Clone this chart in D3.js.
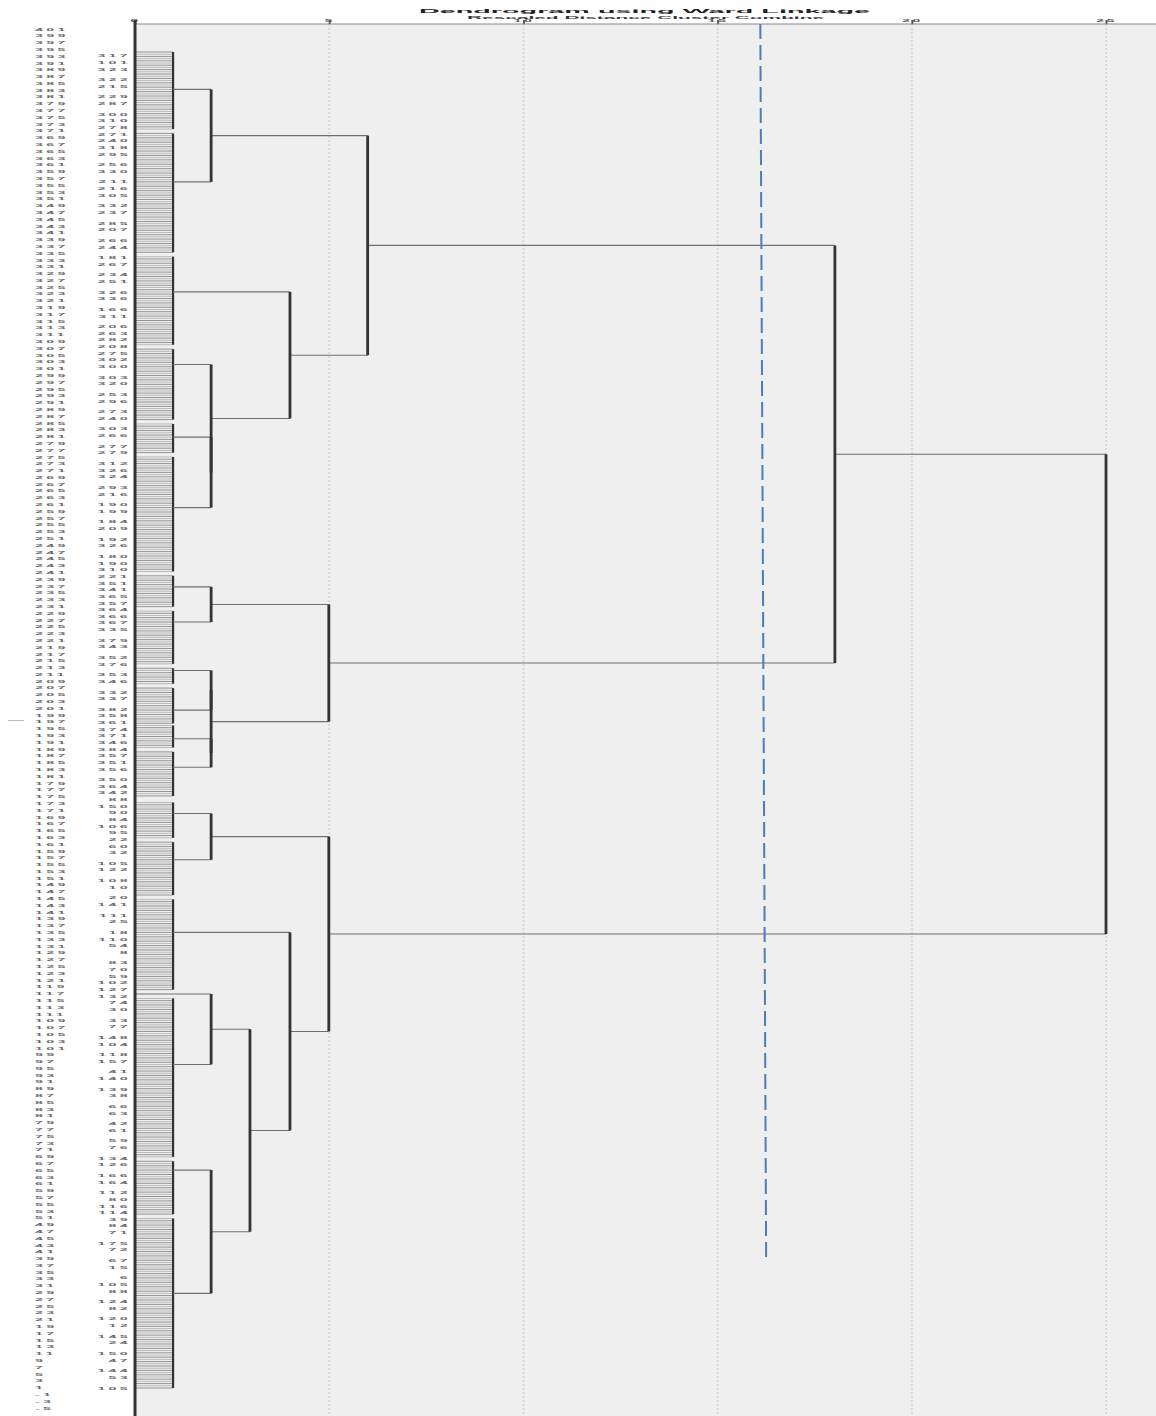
<!DOCTYPE html>
<html>
<head>
<meta charset="utf-8">
<script src="https://cdn.jsdelivr.net/npm/d3@7"></script>
<style>
  body { margin: 0; background: #fff; }
  svg { display: block; }
  text { font-family: "Liberation Sans", Arial, sans-serif; }
</style>
</head>
<body>
<svg id="chart"></svg>
<script>
// row numbers printed down the far left
const rowNumbers = [
  401,399,397,395,393,391,389,387,385,383,381,379,377,375,373,371,369,367,365,363,
  361,359,357,355,353,351,349,347,345,343,341,339,337,335,333,331,329,327,325,323,
  321,319,317,315,313,311,309,307,305,303,301,299,297,295,293,291,289,287,285,283,
  281,279,277,275,273,271,269,267,265,263,261,259,257,255,253,251,249,247,245,243,
  241,239,237,235,233,231,229,227,225,223,221,219,217,215,213,211,209,207,205,203,
  201,199,197,195,193,191,189,187,185,183,181,179,177,175,173,171,169,167,165,163,
  161,159,157,155,153,151,149,147,145,143,141,139,137,135,133,131,129,127,125,123,
  121,119,117,115,113,111,109,107,105,103,101,99,97,95,93,91,89,87,85,83,
  81,79,77,75,73,71,69,67,65,63,61,59,57,55,53,51,49,47,45,43,
  41,39,37,35,33,31,29,27,25,23,21,19,17,15,13,11,9,7,5,3,
  1,-1,-3,-5
];

// case ids, in runs (a small gap between runs)
const caseGroups = [
  ["317","101","323"], ["322","215"], ["229","287"], ["300","310","278","271","240","318","295"],
  ["256","330"], ["211","216","305"], ["332","237"], ["285","207"], ["266","244"], ["181","267"],
  ["234","251"], ["326","336"], ["166","311"], ["206","263","282","208","275","302","300"],
  ["303","320"], ["253","296"], ["273","240"], ["303","266"], ["277","279"], ["312","326","324"],
  ["293","216"], ["190","199"], ["184","209"], ["192","326"],
  ["180","190","310","221","351","341","365","357","364","366","367","335"],
  ["379","343"], ["352","376"], ["353","346"], ["332","337"],
  ["382","358","361","374","371","346","384","357","351","356"],
  ["350","364","342","88","150","90","84","106","95","22","60","32"],
  ["105","122"], ["108","10"], ["20","141"], ["111","25"], ["18","110","54","8"],
  ["83","70","59","102","127","132","74","30"], ["33","77"], ["148","104"], ["118","157"],
  ["41","140"], ["139","38"], ["66","63"], ["42","61"], ["59","76"], ["134","126"],
  ["166","164"], ["112","80","116","114","39","84","71"], ["175","72"], ["67","15"],
  ["6","105","88"], ["124","82"], ["120","12"], ["145","24"], ["150","47"], ["144","53"], ["105"]
];

const leafCount = 608;
const blockHeight = 0.98;
// first-level clusters: [first leaf, last leaf, leaf where it joins its parent]
const blocks = [
  [0,35,17], [37,91,59], [93,133,109], [135,167,142], [169,182,175], [184,236,207],
  [238,252,243], [254,278,259], [280,287,281], [289,305,299], [306,316,312], [318,338,325],
  [341,357,346], [359,383,367], [385,426,400], [430,502,460], [504,528,508], [530,607,564]
];
const singles = [428];
// merges: [child, child, rescaled distance]
const merges = [
  ["b0","b1",1.96], ["b4","b5",1.96], ["b3","m1",1.96], ["b2","m2",3.99], ["m0","m3",5.99],
  ["b6","b7",1.96], ["b8","b9",1.96], ["b10","b11",1.96], ["m6","m7",1.96], ["m5","m8",4.99],
  ["m4","m9",18.02], ["b12","b13",1.96], ["s0","b15",1.96], ["b16","b17",1.96],
  ["m12","m13",2.96], ["b14","m14",3.99], ["m11","m15",4.99], ["m10","m16",25]
];
const distTicks = [0, 5, 10, 15, 20, 25];
const cutLine = [16.1, 16.25];   // cut distance at top / at its lower end
const cutEndLeaf = 548;

const width = 1156, height = 1416;
const svg = d3.select('#chart').attr('width', width).attr('height', height);

const x = d3.scaleLinear().domain([0, 25]).range([135, 1106]);
const leafY = d3.scaleLinear().domain([0, leafCount - 1]).range([52, 1388]);
const rowY = d3.scaleLinear().domain([0, rowNumbers.length - 1]).range([29, 1408]);
const plotTop = 24;

// plot background
svg.append('rect')
  .attr('x', x(0)).attr('y', plotTop)
  .attr('width', width - x(0)).attr('height', height - plotTop)
  .attr('fill', '#efefef');

// grid
svg.append('g').selectAll('line')
  .data(distTicks.filter(d => d > 0))
  .join('line')
  .attr('x1', d => x(d)).attr('x2', d => x(d))
  .attr('y1', plotTop).attr('y2', height)
  .attr('stroke', '#d8d8d8').attr('stroke-width', 2)
  .attr('stroke-dasharray', '2,2');

// top axis
const axis = svg.append('g')
  .attr('transform', `translate(0,${plotTop})`)
  .call(d3.axisTop(x).tickValues(distTicks).tickSize(4).tickSizeOuter(0));
axis.select('.domain').remove();
axis.selectAll('.tick line').attr('stroke', '#555').attr('stroke-width', 2);
axis.selectAll('.tick text')
  .attr('y', -5)
  .attr('fill', '#555')
  .attr('font-size', 12)
  .attr('font-weight', 'bold')
  .attr('letter-spacing', 2)
  .attr('transform', 'scale(1.2,0.36)');
svg.append('line')
  .attr('x1', x(0)).attr('x2', width)
  .attr('y1', plotTop).attr('y2', plotTop)
  .attr('stroke', '#8a8a8a').attr('stroke-width', 1);

// titles (squashed like the source)
svg.append('text')
  .attr('transform', 'translate(644.5,12.5) scale(1,0.36)')
  .attr('text-anchor', 'middle')
  .attr('font-size', 17).attr('font-weight', 'bold')
  .attr('textLength', 451).attr('lengthAdjust', 'spacingAndGlyphs')
  .attr('fill', '#222')
  .text('Dendrogram using Ward Linkage');
svg.append('text')
  .attr('transform', 'translate(645.5,18.8) scale(1,0.3)')
  .attr('text-anchor', 'middle')
  .attr('font-size', 13).attr('font-weight', 'bold')
  .attr('textLength', 357).attr('lengthAdjust', 'spacingAndGlyphs')
  .attr('fill', '#333')
  .text('Rescaled Distance Cluster Combine');

// row numbers
svg.append('g').selectAll('text')
  .data(rowNumbers)
  .join('text')
  .attr('transform', (d, i) => `translate(35,${rowY(i)}) scale(1.3,0.4)`)
  .attr('dy', '0.35em')
  .attr('font-size', 11)
  .attr('font-weight', 'bold')
  .attr('letter-spacing', 2.5)
  .attr('fill', '#6a6a6a')
  .text(d => d);

// case ids
const caseRows = [];
let pos = 0;
caseGroups.forEach((grp, gi) => {
  if (gi > 0) pos += 1.6;
  grp.forEach((c, ci) => {
    if (ci > 0) pos += 1;
    caseRows.push({ id: c, pos });
  });
});
const caseY = d3.scaleLinear().domain([0, pos]).range([55.7, 1388]);
svg.append('g').selectAll('text')
  .data(caseRows)
  .join('text')
  .attr('transform', d => `translate(131,${caseY(d.pos)}) scale(1.3,0.4)`)
  .attr('text-anchor', 'end')
  .attr('dy', '0.35em')
  .attr('font-size', 11)
  .attr('font-weight', 'bold')
  .attr('letter-spacing', 2.5)
  .attr('fill', '#6a6a6a')
  .text(d => d.id);

// small axis mark on the left
svg.append('text')
  .attr('transform', 'translate(8,722) scale(1,0.4)')
  .attr('font-size', 16)
  .attr('fill', '#888')
  .text('—');

// dendrogram
const g = svg.append('g');
const leaves = [];
blocks.forEach(b => { for (let i = b[0]; i <= b[1]; i++) leaves.push(i); });

g.append('g').selectAll('line')
  .data(leaves)
  .join('line')
  .attr('x1', x(0)).attr('x2', x(blockHeight))
  .attr('y1', d => leafY(d)).attr('y2', d => leafY(d))
  .attr('stroke', (d, i) => i % 2 ? '#a0a0a0' : '#6a6a6a')
  .attr('stroke-width', 0.7);

g.append('g').selectAll('line')
  .data(blocks)
  .join('line')
  .attr('x1', x(blockHeight)).attr('x2', x(blockHeight))
  .attr('y1', d => leafY(d[0])).attr('y2', d => leafY(d[1]))
  .attr('stroke', '#333').attr('stroke-width', 2.2);

const nodes = {};
blocks.forEach((b, i) => { nodes['b' + i] = { h: blockHeight, y: leafY(b[2]) }; });
singles.forEach((s, i) => { nodes['s' + i] = { h: 0, y: leafY(s) }; });

const links = [], stems = [];
merges.forEach(([a, b, h], i) => {
  const A = nodes[a], B = nodes[b];
  links.push({ x1: x(A.h), x2: x(h), y: A.y });
  links.push({ x1: x(B.h), x2: x(h), y: B.y });
  stems.push({ x: x(h), y1: A.y, y2: B.y });
  nodes['m' + i] = { h, y: (A.y + B.y) / 2 };
});

g.append('g').selectAll('line')
  .data(links)
  .join('line')
  .attr('x1', d => d.x1).attr('x2', d => d.x2)
  .attr('y1', d => d.y).attr('y2', d => d.y)
  .attr('stroke', '#707070').attr('stroke-width', 1.1);

g.append('g').selectAll('line')
  .data(stems)
  .join('line')
  .attr('x1', d => d.x).attr('x2', d => d.x)
  .attr('y1', d => d.y1).attr('y2', d => d.y2)
  .attr('stroke', '#333').attr('stroke-width', 2.8);

// left frame line
svg.append('line')
  .attr('x1', x(0)).attr('x2', x(0))
  .attr('y1', plotTop - 4).attr('y2', height)
  .attr('stroke', '#333').attr('stroke-width', 3);

// cut line
svg.append('line')
  .attr('x1', x(cutLine[0])).attr('x2', x(cutLine[1]))
  .attr('y1', plotTop).attr('y2', leafY(cutEndLeaf))
  .attr('stroke', '#4a7ebb').attr('stroke-width', 2)
  .attr('stroke-dasharray', '15,6');
</script>
</body>
</html>
